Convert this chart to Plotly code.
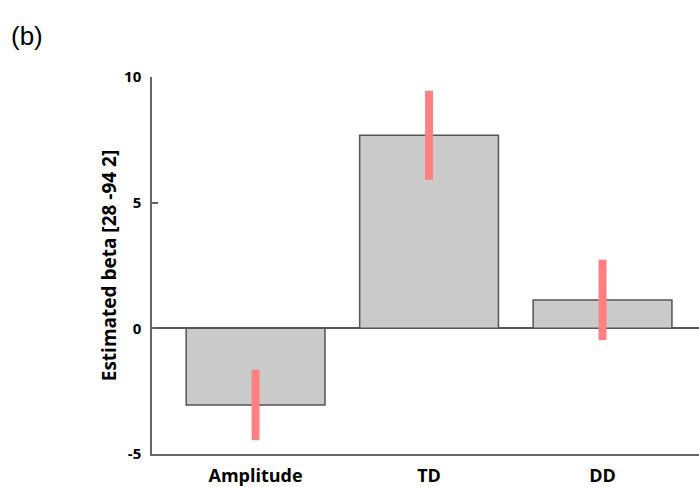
import plotly.graph_objects as go

categories = ["Amplitude", "TD", "DD"]
beta_values = [-3.05, 7.68, 1.13]
error_values = [1.4, 1.77, 1.6]
y_tick_values = [-5, 0, 5, 10]
y_tick_labels = ["-5", "0", "5", "10"]

fig = go.Figure()
fig.add_trace(go.Bar(
    x=list(range(len(categories))),
    y=beta_values,
    width=0.8,
    marker=dict(color="#CACACA", line=dict(color="#555555", width=1.5)),
    error_y=dict(type="data", array=error_values, visible=True,
                 color="#FF8080", thickness=8, width=0),
    showlegend=False,
))

L, R, T, B = 152, 0, 77, 28
W, H = 699, 487
fig.update_layout(
    width=W, height=H,
    margin=dict(l=L, r=R, t=T, b=B),
    plot_bgcolor="white", paper_bgcolor="white",
    font=dict(family="Open Sans, Liberation Sans, sans-serif", color="black"),
    annotations=[dict(text="(b)", x=(9 - L) / (W - L - R), y=1 + (T - 35) / (H - T - B),
                      xref="paper", yref="paper",
                      showarrow=False, font=dict(size=26, family="Liberation Sans, Arial"),
                      xanchor="left", yanchor="middle")],
)

fig.update_xaxes(
    range=[-0.597, 2.556],
    tickvals=list(range(len(categories))),
    ticktext=["<b>%s</b>" % c for c in categories],
    tickfont=dict(size=18, color="black"),
    showline=True, linecolor="#666666", linewidth=1.5,
    showgrid=False, zeroline=False, ticks="", ticklabelstandoff=5,
)
fig.update_yaxes(
    range=[-5, 10],
    tickvals=y_tick_values,
    ticktext=["<b>%s</b>" % t for t in y_tick_labels],
    tickfont=dict(size=15, color="black"),
    showline=True, linecolor="#666666", linewidth=1.5,
    ticks="inside", ticklen=6, tickcolor="#666666", tickwidth=1.5,
    ticklabelstandoff=6,
    showgrid=False, zeroline=True, zerolinecolor="#555555", zerolinewidth=1.5,
    title=dict(text="<b>Estimated beta [28 -94 2]</b>", font=dict(size=19, color="black"), standoff=2),
)

fig.write_html("out.html", config={"displayModeBar": False},
               post_script="document.body.style.margin='0px';")
